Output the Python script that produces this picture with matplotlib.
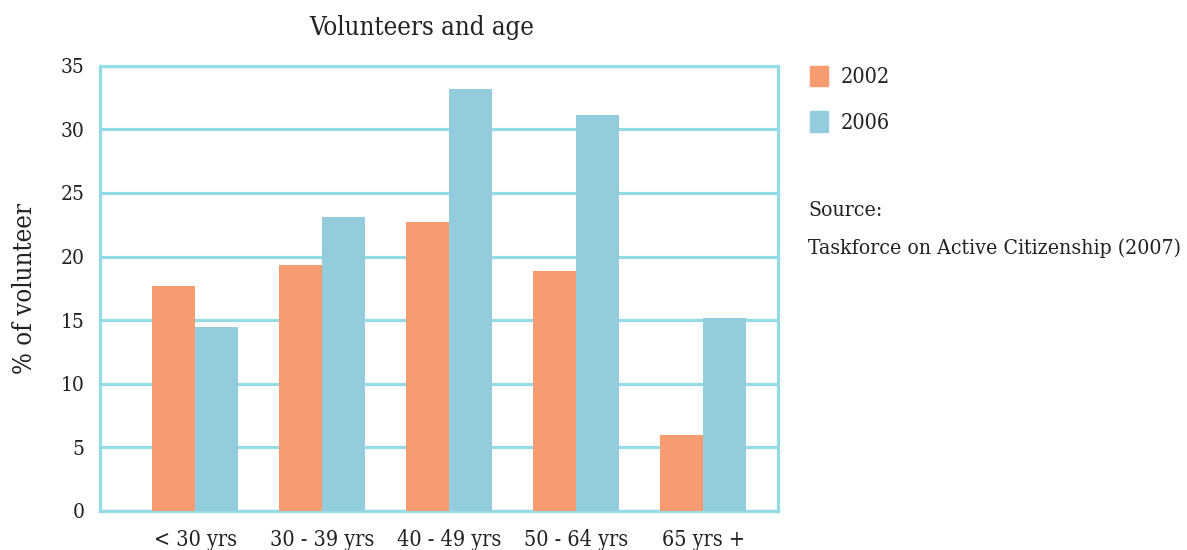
import numpy as np
import matplotlib.pyplot as plt
from matplotlib.patches import Patch

# volunteering rate by age group
age_groups = ["< 30 yrs", "30 - 39 yrs", "40 - 49 yrs", "50 - 64 yrs", "65 yrs +"]
pct_2002 = [17.7, 19.3, 22.7, 18.9, 6.0]
pct_2006 = [14.5, 23.1, 33.2, 31.1, 15.2]
years = ["2002", "2006"]

orange = "#f79c70"
blue = "#93cddd"
line_col = "#95dbe5"
ink = "#222222"

plt.rcParams['font.family'] = ['DejaVu Serif']
plt.rcParams['font.stretch'] = 'condensed'

fig = plt.figure(figsize=(11.87, 5.5), dpi=100)
ax = fig.add_axes([100/1187, 1 - 511/550, 678/1187, 445.3/550])

x = np.arange(len(age_groups))
w = 0.34
ax.bar(x - w/2, pct_2002, w, color=orange, zorder=3)
ax.bar(x + w/2, pct_2006, w, color=blue, zorder=3)

ax.set_ylim(0, 35)
ax.set_xlim(-0.75, 4.59)
ax.set_yticks(range(0, 36, 5))
ax.set_xticks(x)
ax.set_xticklabels(age_groups)
ax.tick_params(length=0, colors=ink)
ax.tick_params(axis='y', pad=11, labelsize=15)
ax.tick_params(axis='x', pad=13, labelsize=15.5)

ax.grid(axis='y', color=line_col, linewidth=2.3, zorder=1)
for s in ax.spines.values():
    s.set_color(line_col)
    s.set_linewidth(2.3)

ax.set_ylabel("% of volunteer", fontsize=18.5, labelpad=17, color=ink)
fig.text(422/1187, 1 - 27/550, "Volunteers and age", fontsize=18.5,
         ha='center', va='center', color=ink)

handles = [Patch(color=orange), Patch(color=blue)]
fig.legend(handles, years, loc='upper left', bbox_to_anchor=(801/1187, 1 - 57/550),
           frameon=False, fontsize=15.5, handlelength=0.85, handleheight=1.1,
           handletextpad=0.6, labelspacing=1.05, borderaxespad=0, labelcolor=ink)

fig.text(808/1187, 1 - 210/550, "Source:", fontsize=15.2, va='center', color=ink)
fig.text(808/1187, 1 - 248/550, "Taskforce on Active Citizenship (2007)", fontsize=15.2,
         va='center', color=ink)

fig.savefig("out.png", dpi=100)
